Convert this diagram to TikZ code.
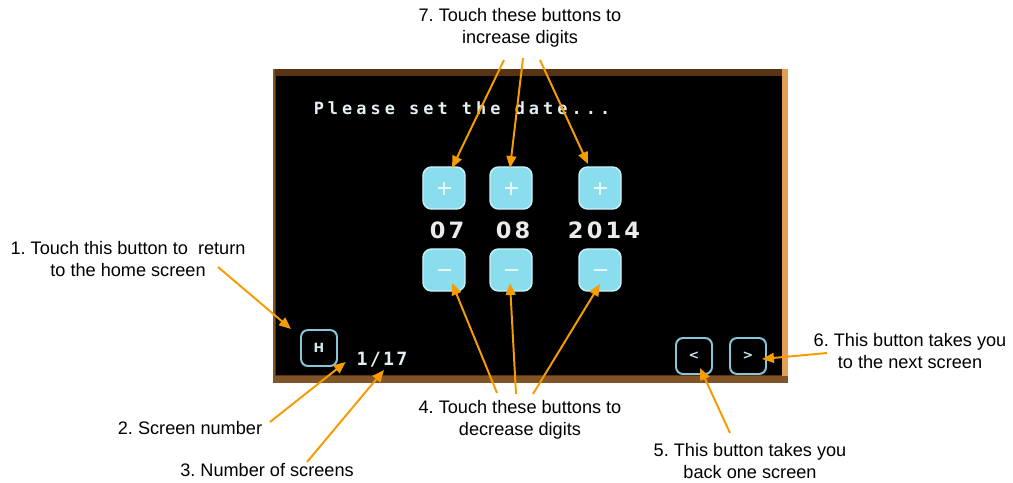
\documentclass[tikz,border=0pt]{standalone}
\usepackage{fontspec}
\setmainfont{Liberation Sans}
\newfontfamily\promptfont[LetterSpace=24]{DejaVu Sans Mono}
\newfontfamily\countfont[LetterSpace=12]{DejaVu Sans Mono}
\newfontfamily\digitfont[LetterSpace=14]{DejaVu Sans}
\newfontfamily\navfont{DejaVu Sans}
\usetikzlibrary{arrows.meta,calc}
\definecolor{callout}{RGB}{246,156,0}
\definecolor{keyfill}{RGB}{138,221,236}
\definecolor{keyedge}{RGB}{200,242,250}
\definecolor{navedge}{RGB}{135,198,218}
\definecolor{bezel}{RGB}{88,52,20}
\definecolor{bezellight}{RGB}{226,158,84}
\definecolor{screentext}{RGB}{226,240,244}
\frenchspacing

\begin{document}
\begin{tikzpicture}[x=0.025cm,y=0.025cm,
  note/.style={font=\fontsize{12.9}{15.6}\selectfont,align=center,inner sep=0pt},
  key/.style={draw=keyedge,line width=1pt,fill=keyfill,rounded corners=6pt,
    minimum width=1.05cm,minimum height=1.05cm,inner sep=0pt,outer sep=0pt},
  navkey/.style={draw=navedge,line width=1.4pt,rounded corners=5pt,
    minimum width=0.9cm,minimum height=0.9cm,inner sep=0pt,outer sep=0pt,
    text=screentext!80!navedge,font=\navfont\bfseries\fontsize{9}{10}\selectfont},
  sign/.style={draw=keyedge!50!white,line width=2.1pt},
  digits/.style={font=\digitfont\bfseries\fontsize{16}{18}\selectfont,text=white!92!black},
  pointer/.style={draw=callout,line width=1.4pt,-{Triangle[length=8.5pt,width=7pt]}}]
\useasboundingbox (0,0) rectangle (1013,482);

\fill[bezel] (273,99) rectangle (788,413);
\fill[bezellight] (782,99) rectangle (788,413);
\fill[bezel!70!bezellight] (273,99) rectangle (788,106);
\fill[bezel!70!bezellight] (273,99) rectangle (275,413);
\fill[black] (276,107) rectangle (782,406);

\node[font=\promptfont\bfseries\fontsize{12}{13}\selectfont,text=screentext] (prompt) at (462,374) {Please set the date...};

\node[key] (p1) at (444,294) {};
\node[key] (p2) at (511,294) {};
\node[key] (p3) at (600,294) {};
\node[key] (m1) at (444,212) {};
\node[key] (m2) at (511,212) {};
\node[key] (m3) at (600,212) {};
\foreach \b in {p1,p2,p3}{
  \draw[sign] ($(\b)+(-6.5,0)$) -- ($(\b)+(6.5,0)$);
  \draw[sign] ($(\b)+(0,-6.5)$) -- ($(\b)+(0,6.5)$);
}
\foreach \b in {m1,m2,m3}
  \draw[sign] ($(\b)+(-6.5,0)$) -- ($(\b)+(6.5,0)$);

\node[digits] (day) at (447,252) {07};
\node[digits] (month) at (513,252) {08};
\node[digits] (year) at (604,252) {2014};

\node[navkey] (home) at (319,134) {H};
\node[navkey] (prev) at (694,126) {<};
\node[navkey] (next) at (748,126) {>};
\node[font=\countfont\bfseries\fontsize{13}{14}\selectfont,text=screentext] (count) at (382,122) {1/17};

\node[note] (n1) at (128,223) {1. Touch this button to \ return\\to the home screen};
\node[note] (n2) at (190,54) {2. Screen number};
\node[note] (n3) at (267,12) {3. Number of screens};
\node[note] (n4) at (520,62) {4. Touch these buttons to\\decrease digits};
\node[note] (n5) at (750,21) {5. This button takes you\\back one screen};
\node[note] (n6) at (910,131) {6. This button takes you\\to the next screen};
\node[note] (n7) at (520,454) {7. Touch these buttons to\\increase digits};

\coordinate (s1) at (218,215);
\coordinate (s2) at (270,60);
\coordinate (s3) at (307,20);
\coordinate (s4a) at (497,89);
\coordinate (s4b) at (516,88);
\coordinate (s4c) at (533,88);
\coordinate (s5) at (730,49);
\coordinate (s6) at (827,129);
\coordinate (s7a) at (504,422);
\coordinate (s7b) at (523,424);
\coordinate (s7c) at (540,422);

\draw[pointer] (s1) -- ($(home.north west)+(-10,1)$);
\draw[pointer] (s2) -- ($(count.west)+(-6,-2)$);
\draw[pointer] (s3) -- ($(count)+(2,-10)$);
\draw[pointer] (s4a) -- ($(m1)+(8,-13)$);
\draw[pointer] (s4b) -- ($(m2)+(-1,-13)$);
\draw[pointer] (s4c) -- ($(m3)+(0,-14)$);
\draw[pointer] (s5) -- ($(prev)+(6,-12)$);
\draw[pointer] (s6) -- ($(next.east)+(-4,-3)$);
\draw[pointer] (s7a) -- ($(p1)+(8,20)$);
\draw[pointer] (s7b) -- ($(p2)+(-1,20)$);
\draw[pointer] (s7c) -- ($(p3)+(-12,24)$);
\end{tikzpicture}
\end{document}
